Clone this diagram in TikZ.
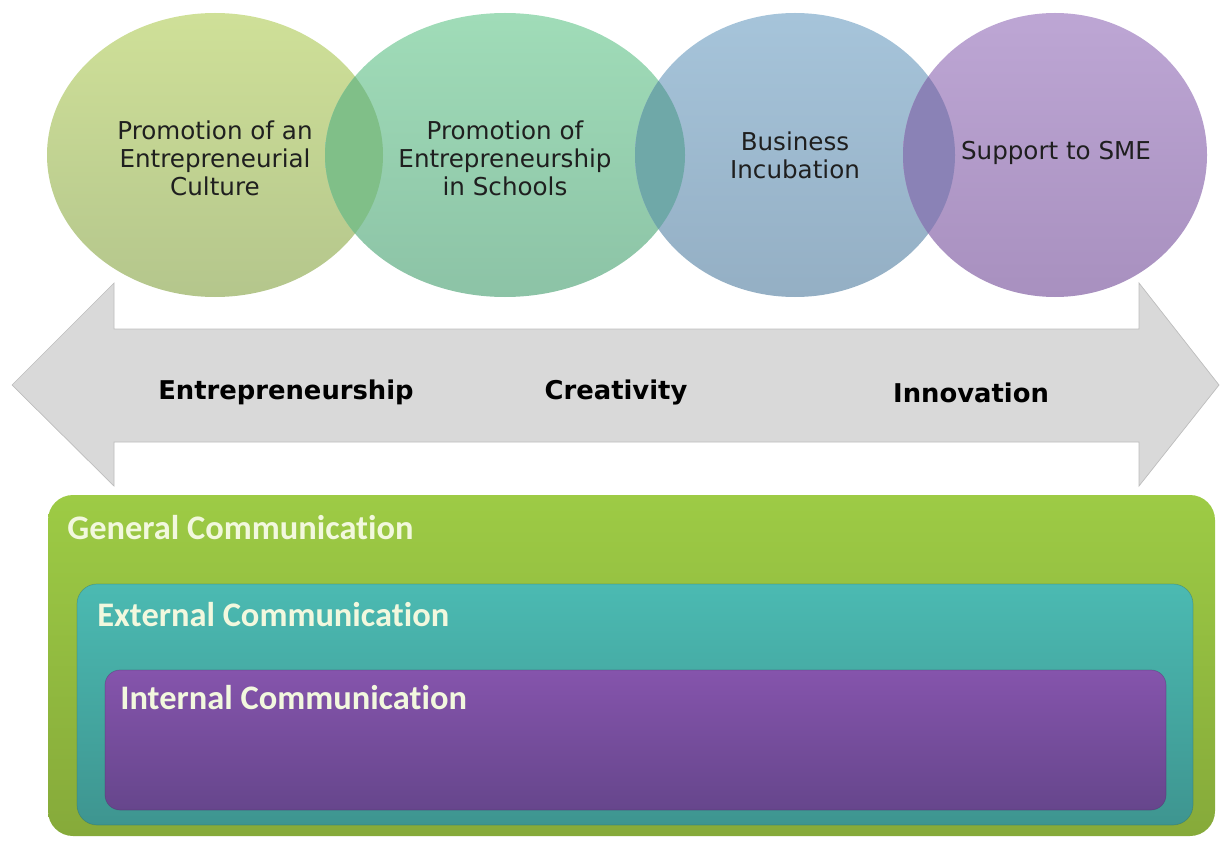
\documentclass[tikz,border=0pt]{standalone}
\usepackage{fontspec}
\setmainfont{DejaVu Sans}
\newfontfamily\boxfont[Ligatures=NoCommon]{Carlito}

\definecolor{cultA}{HTML}{CFE098}
\definecolor{cultB}{HTML}{B4C68C}
\definecolor{schoolA}{HTML}{A0DCB8}
\definecolor{schoolB}{HTML}{8CC3A6}
\definecolor{incubA}{HTML}{A6C4DA}
\definecolor{incubB}{HTML}{94AFC4}
\definecolor{smeA}{HTML}{BDA6D4}
\definecolor{smeB}{HTML}{A890BF}
\definecolor{ovlA}{HTML}{80BF88}
\definecolor{ovlB}{HTML}{6FA8A8}
\definecolor{ovlC}{HTML}{8A82B6}
\definecolor{arrowgray}{HTML}{D9D9D9}
\definecolor{arrowedge}{HTML}{BDBDBD}
\definecolor{genA}{HTML}{9DCB45}
\definecolor{genB}{HTML}{86AA3A}
\definecolor{extA}{HTML}{4BBAB2}
\definecolor{extB}{HTML}{3E9590}
\definecolor{intA}{HTML}{8554AC}
\definecolor{intB}{HTML}{66468C}
\definecolor{boxwhite}{HTML}{F2F8DE}

\begin{document}
\begin{tikzpicture}[x=0.02cm,y=-0.02cm]
\tikzstyle{every node}+=[inner sep=0pt]
\tikzstyle{circtext}=[align=center,font=\fontsize{14}{16}\selectfont,text=black!88]
\tikzstyle{arrowtext}=[font=\fontsize{14.7}{16}\selectfont\bfseries]
\tikzstyle{boxtext}=[anchor=west,font=\boxfont\bfseries\fontsize{19.6}{22}\selectfont,text=boxwhite]
\useasboundingbox (0,0) rectangle (1220,841);
% four circles
\shade [top color=cultA,bottom color=cultB] (215,155) ellipse [x radius=168,y radius=142];
\shade [top color=schoolA,bottom color=schoolB] (505,155) ellipse [x radius=180,y radius=142];
\shade [top color=incubA,bottom color=incubB] (795,155) ellipse [x radius=160,y radius=142];
\shade [top color=smeA,bottom color=smeB] (1055,155) ellipse [x radius=152,y radius=142];
% overlaps
\begin{scope}
\clip (215,155) ellipse [x radius=168,y radius=142];
\fill [ovlA] (505,155) ellipse [x radius=180,y radius=142];
\end{scope}
\begin{scope}
\clip (505,155) ellipse [x radius=180,y radius=142];
\fill [ovlB] (795,155) ellipse [x radius=160,y radius=142];
\end{scope}
\begin{scope}
\clip (795,155) ellipse [x radius=160,y radius=142];
\fill [ovlC] (1055,155) ellipse [x radius=152,y radius=142];
\end{scope}
\node [circtext] (culture) at (215,158) {Promotion of an\\Entrepreneurial\\Culture};
\node [circtext] (schools) at (505,158) {Promotion of\\Entrepreneurship\\in Schools};
\node [circtext] (incubation) at (795,155) {Business\\Incubation};
\node [circtext] (sme) at (1056,153) {Support to SME};
% double arrow
\draw [fill=arrowgray,draw=arrowedge] (12,385) -- (114,283) -- (114,329) -- (1139,329) -- (1139,283)
  -- (1219,385) -- (1139,486) -- (1139,442) -- (114,442) -- (114,486) -- cycle;
\node [arrowtext] (entrep) at (286,392) {Entrepreneurship};
\node [arrowtext] (creat) at (616,392) {Creativity};
\node [arrowtext] (innov) at (971,393) {Innovation};
% nested boxes
\shade [top color=genA,bottom color=genB,rounded corners=0.5cm] (48,495) rectangle (1215,836);
\shade [top color=extA,bottom color=extB,rounded corners=0.4cm] (77,584) rectangle (1193,825);
\draw [extB!70!black,opacity=0.35,rounded corners=0.4cm] (77,584) rectangle (1193,825);
\shade [top color=intA,bottom color=intB,rounded corners=0.3cm] (105,670) rectangle (1166,810);
\draw [intB!70!black,opacity=0.35,rounded corners=0.3cm] (105,670) rectangle (1166,810);
\node [boxtext] (general) at (67,528) {General Communication};
\node [boxtext] (external) at (97,615) {External Communication};
\node [boxtext] (internal) at (120,698) {Internal Communication};
\end{tikzpicture}
\end{document}
